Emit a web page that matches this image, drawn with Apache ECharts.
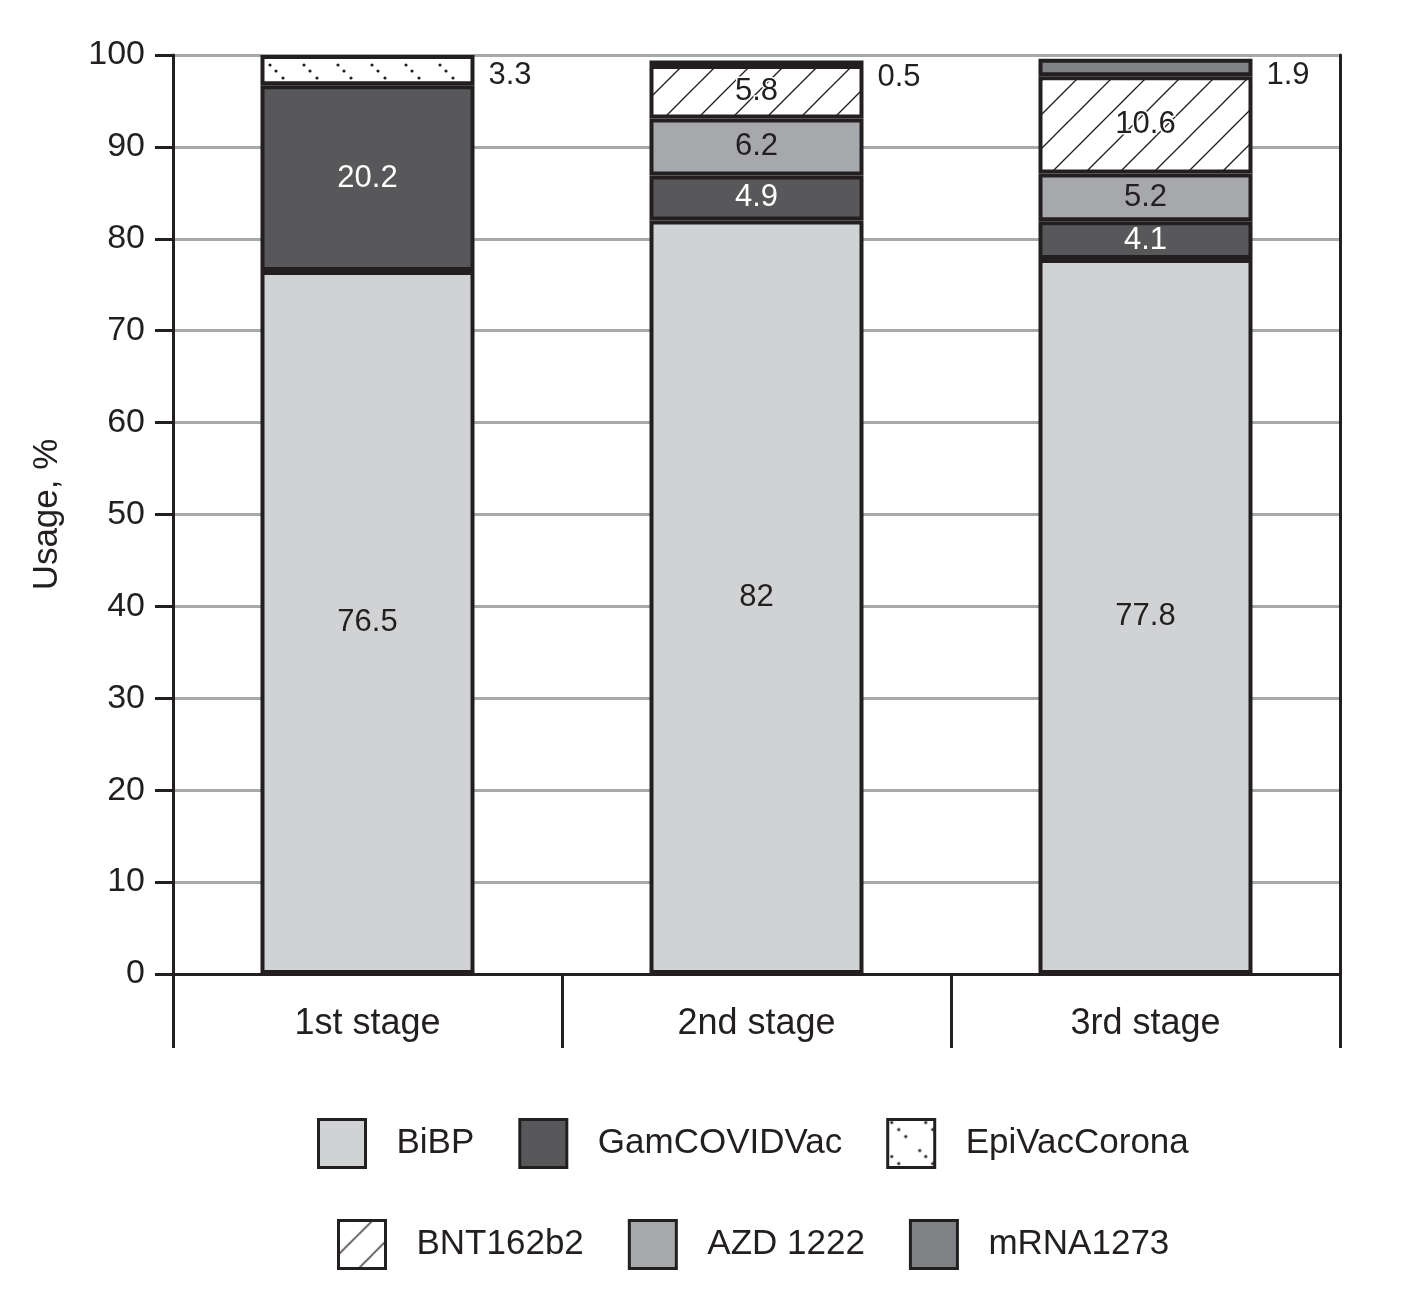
<!DOCTYPE html>
<html>
<head>
<meta charset="utf-8">
<script src="https://cdn.jsdelivr.net/npm/echarts@6/dist/echarts.min.js"></script>
<style>
html,body{margin:0;padding:0;background:#fff;}
#chart{width:1402px;height:1297px;}
</style>
</head>
<body>
<div id="chart"></div>
<script>
// ---- data ----
const categories = ['1st stage', '2nd stage', '3rd stage'];
const bibp = [76.5, 82, 77.8];
const gamCovidVac = [20.2, 4.9, 4.1];
const azd1222 = [null, 6.2, 5.2];
const bnt162b2 = [null, 5.8, 10.6];
const mrna1273 = [null, 0.5, 1.9];
const epiVacCorona = [3.3, null, null];
const yTicks = { min: 0, max: 100, interval: 10 };
const legendRow1 = ['BiBP', 'GamCOVIDVac', 'EpiVacCorona'];
const legendRow2 = ['BNT162b2', 'AZD 1222', 'mRNA1273'];

// ---- styles ----
const INK = '#231f20';
const FONT = '"Liberation Sans", Arial, Helvetica, sans-serif';

function hatchPattern() {
  const c = document.createElement('canvas');
  c.width = 34; c.height = 34;
  const g = c.getContext('2d');
  g.fillStyle = '#fff'; g.fillRect(0, 0, 34, 34);
  g.strokeStyle = INK; g.lineWidth = 1.3;
  [-34, 0, 34].forEach(o => {
    g.beginPath(); g.moveTo(o - 1, 35); g.lineTo(o + 35, -1); g.stroke();
  });
  return { image: c, repeat: 'repeat' };
}
function dotPattern() {
  const c = document.createElement('canvas');
  c.width = 34; c.height = 34;
  const g = c.getContext('2d');
  g.fillStyle = '#fff'; g.fillRect(0, 0, 34, 34);
  g.fillStyle = INK;
  [[4, 3], [11, 10], [18, 17], [25, 24], [32, 31]].forEach((p, i) => {
    if (i % 2 === 0 || i === 1) {
      g.beginPath(); g.arc(p[0], p[1], 1.6, 0, Math.PI * 2); g.fill();
    }
  });
  return { image: c, repeat: 'repeat' };
}

const baseLabel = {
  show: true, position: 'inside', fontSize: 31, fontFamily: FONT, color: INK,
  formatter: p => p.value
};

function makeSeries(name, data, color, labelExtra, itemLabels) {
  return {
    name: name, type: 'bar', stack: 'total', barWidth: 214,
    xAxisIndex: 0, yAxisIndex: 0,
    itemStyle: { color: color, borderColor: INK, borderWidth: 4 },
    label: Object.assign({}, baseLabel, labelExtra || {}),
    data: data.map((v, i) => {
      if (itemLabels && itemLabels[i]) return { value: v, label: itemLabels[i] };
      return v;
    })
  };
}

const outsideLabel = (dy) => ({ position: 'right', distance: 14, offset: [0, dy] });

const series = [
  makeSeries('BiBP', bibp, '#d1d2d4'),
  makeSeries('GamCOVIDVac', gamCovidVac, '#58585a', { color: '#ffffff' }),
  makeSeries('AZD 1222', azd1222, '#a7a8ab'),
  makeSeries('BNT162b2', bnt162b2, hatchPattern(), { textBorderColor: '#fff', textBorderWidth: 3 }),
  makeSeries('mRNA1273', mrna1273, '#808184', {}, [null, outsideLabel(15), outsideLabel(8)]),
  makeSeries('EpiVacCorona', epiVacCorona, dotPattern(), {}, [outsideLabel(5), null, null])
];

const legendCommon = {
  orient: 'horizontal', padding: 0, icon: 'rect',
  itemWidth: 47, itemHeight: 48, itemGap: 44,
  selectedMode: false,
  itemStyle: { borderWidth: 3 },
  textStyle: { fontSize: 35, fontFamily: FONT, color: INK, padding: [0, 0, 0, 26] }
};

const option = {
  backgroundColor: '#fff',
  animation: false,
  grid: { left: 173, right: 62, top: 55, bottom: 323 },
  legend: [
    Object.assign({}, legendCommon, { data: legendRow1, left: 317, top: 1118 }),
    Object.assign({}, legendCommon, { data: legendRow2, left: 337, top: 1219 })
  ],
  xAxis: [
    {
      type: 'category', data: categories, position: 'bottom',
      axisLine: { lineStyle: { color: INK, width: 3 } },
      axisTick: { show: true, length: 74, interval: 0, alignWithLabel: false, lineStyle: { color: INK, width: 3 } },
      axisLabel: { fontSize: 36, fontFamily: FONT, color: INK, margin: 32, interval: 0 },
      splitLine: { show: false }
    },
    {
      type: 'category', data: categories, position: 'top',
      axisLine: { lineStyle: { color: INK, width: 3 } },
      axisTick: { show: false }, axisLabel: { show: false }, splitLine: { show: false }
    }
  ],
  yAxis: [
    {
      type: 'value', min: yTicks.min, max: yTicks.max, interval: yTicks.interval,
      name: 'Usage, %', nameLocation: 'middle', nameGap: 108,
      nameTextStyle: { fontSize: 35, fontFamily: FONT, color: INK },
      axisLine: { show: true, lineStyle: { color: INK, width: 3 } },
      axisTick: { show: true, length: 18, lineStyle: { color: INK, width: 3 } },
      axisLabel: { fontSize: 34, fontFamily: FONT, color: INK, margin: 28 },
      splitLine: { show: true, lineStyle: { color: '#a7a8ab', width: 3 } }
    },
    {
      type: 'value', min: yTicks.min, max: yTicks.max, interval: yTicks.interval, position: 'right',
      axisLine: { show: true, lineStyle: { color: INK, width: 3 } },
      axisTick: { show: false }, axisLabel: { show: false }, splitLine: { show: false }
    }
  ],
  series: series
};

const chart = echarts.init(document.getElementById('chart'), null, { renderer: 'canvas' });
chart.setOption(option);
</script>
</body>
</html>
